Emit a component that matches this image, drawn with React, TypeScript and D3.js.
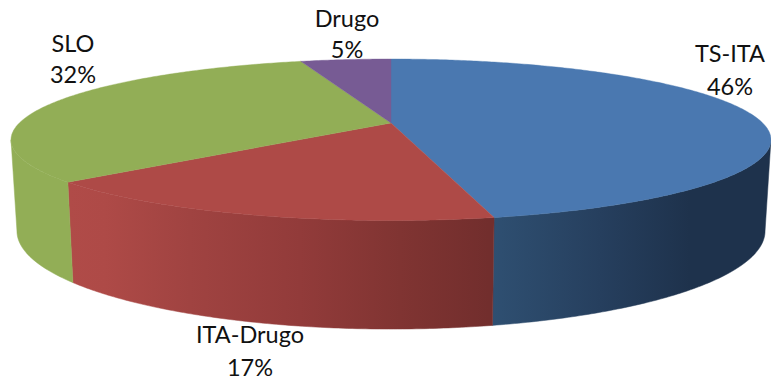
import React from "react";
import * as d3 from "d3";

// Shares of each category, in percent; labels show them rounded.
const categories = ["TS-ITA", "ITA-Drugo", "SLO", "Drugo"];
const shares = [46.45, 17.05, 31.8, 4.7];
const topColors = ["#4a78b0", "#ae4a47", "#92ae56", "#775b94"];
const wallStops: [number, string][][] = [
  [[489, "#2f5072"], [600, "#263f5e"], [690, "#1e324c"], [771, "#1e324c"]],
  [[68, "#b04b48"], [105, "#ae4a47"], [190, "#a04341"], [300, "#923b3a"], [400, "#803432"], [489, "#722e2d"]],
  [[12, "#92ae56"], [75, "#92ae56"]],
  [[0, "#775b94"], [771, "#775b94"]],
];
const labelAnchors: [number, number, number][] = [
  [730, 62, 95],
  [250, 343, 376],
  [73, 52, 83],
  [347, 27, 58],
];

const W = 771;
const H = 380;

// A rim is a circle seen in perspective; v = +1 is the side nearest the viewer.
type Rim = { cx: number; cy: number; a: number; b: number; k: number };
const topRim: Rim = { cx: 391, cy: 123, a: 77.27, b: 371.7, k: 0.2075 };
const bottomRim: Rim = { cx: 391, cy: 210.7, a: 93.8, b: 365.9, k: 0.2075 };

// Angle is measured clockwise from the back of the pie.
const project = (r: Rim, angle: number): [number, number] => {
  const u = Math.sin(angle);
  const v = -Math.cos(angle);
  const d = 1 - r.k * v;
  return [r.cx + (r.b * u) / d, r.cy + (r.a * v) / d];
};

const sampleArc = (r: Rim, start: number, end: number): [number, number][] => {
  const n = Math.max(2, Math.ceil(Math.abs(end - start) / 0.01));
  return d3.range(n + 1).map((i) => project(r, start + ((end - start) * i) / n));
};

const line = d3.line<[number, number]>();

// Part of the circle whose wall faces the viewer.
const wallStart = Math.acos(-topRim.k);
const wallEnd = 2 * Math.PI - wallStart;

export default function App() {
  const arcs = d3
    .pie<number>()
    .sort(null)
    .value((d) => d)(shares);

  return (
    <svg
      width={W}
      height={H}
      viewBox={`0 0 ${W} ${H}`}
      style={{ position: "absolute", left: 0, top: 0, background: "#fff" }}
    >
      <defs>
        {wallStops.map((stops, i) => {
          const offset = d3.scaleLinear().domain([stops[0][0], stops[stops.length - 1][0]]).range([0, 1]);
          return (
            <linearGradient
              key={i}
              id={`wall-${i}`}
              gradientUnits="userSpaceOnUse"
              x1={stops[0][0]}
              x2={stops[stops.length - 1][0]}
              y1={0}
              y2={0}
            >
              {stops.map(([x, c]) => (
                <stop key={x} offset={offset(x)} stopColor={c} />
              ))}
            </linearGradient>
          );
        })}
      </defs>

      {arcs.map((arc, i) => {
        const s = Math.max(arc.startAngle, wallStart);
        const e = Math.min(arc.endAngle, wallEnd);
        if (e <= s) return null;
        const pts = [...sampleArc(topRim, s, e), ...sampleArc(bottomRim, s, e).reverse()];
        return (
          <path
            key={i}
            d={line(pts) + "Z"}
            fill={`url(#wall-${i})`}
            stroke={`url(#wall-${i})`}
            strokeWidth={0.5}
          />
        );
      })}

      {arcs.map((arc, i) => {
        const pts: [number, number][] = [
          [topRim.cx, topRim.cy],
          ...sampleArc(topRim, arc.startAngle, arc.endAngle),
        ];
        return <path key={i} d={line(pts) + "Z"} fill={topColors[i]} stroke={topColors[i]} strokeWidth={0.4} />;
      })}

      {categories.map((name, i) => {
        const [x, y1, y2] = labelAnchors[i];
        return (
          <g key={name} fontFamily="Lato, sans-serif" fontSize={23.5} fill="#111" textAnchor="middle">
            <text x={x} y={y1}>{name}</text>
            <text x={x} y={y2}>{`${Math.round(shares[i])}%`}</text>
          </g>
        );
      })}
    </svg>
  );
}
